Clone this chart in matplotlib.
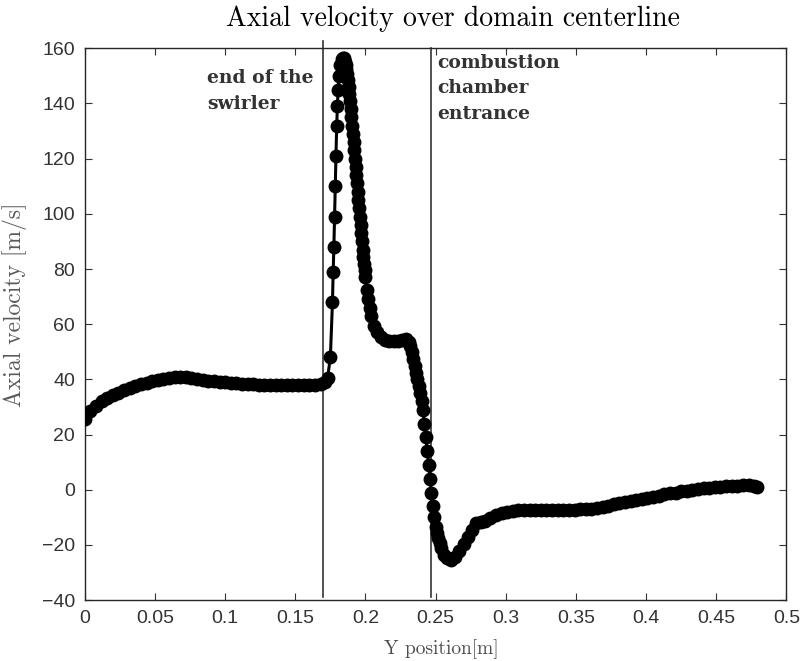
import matplotlib
matplotlib.use("Agg")
import matplotlib.pyplot as plt
import numpy as np

# centerline samples
Y_POS = [0.000, 0.004, 0.008, 0.012, 0.016, 0.020, 0.024, 0.028, 0.032, 0.036,
         0.040, 0.044, 0.048, 0.052, 0.056, 0.060, 0.064, 0.068, 0.072, 0.076,
         0.080, 0.084, 0.088, 0.092, 0.096, 0.100, 0.104, 0.108, 0.112, 0.116,
         0.120, 0.124, 0.128, 0.132, 0.136, 0.140, 0.144, 0.148, 0.152, 0.156,
         0.160, 0.164, 0.168,
         0.171, 0.173, 0.175, 0.1765, 0.177, 0.1775, 0.178, 0.1785, 0.179, 0.1795,
         0.180, 0.1805, 0.181, 0.182, 0.183, 0.184, 0.1845, 0.185, 0.1855, 0.186,
         0.1865, 0.187, 0.1875, 0.188, 0.1885, 0.189, 0.1895, 0.190, 0.1905, 0.191,
         0.1915, 0.192, 0.1925, 0.193, 0.1935, 0.194, 0.1945, 0.195, 0.1955, 0.196,
         0.1965, 0.197, 0.1975, 0.198, 0.1985, 0.199, 0.1995, 0.200, 0.201, 0.202,
         0.203, 0.204, 0.206, 0.208, 0.211, 0.214, 0.217, 0.220, 0.223,
         0.226, 0.229, 0.231, 0.232, 0.233, 0.234, 0.235, 0.236, 0.237, 0.238,
         0.239, 0.240, 0.241, 0.242, 0.243,
         0.244, 0.245, 0.246, 0.247, 0.248, 0.249, 0.250, 0.251, 0.252, 0.253,
         0.254, 0.256, 0.258, 0.261, 0.264, 0.267, 0.270, 0.273, 0.276, 0.279,
         0.282, 0.285, 0.289, 0.293, 0.297, 0.301, 0.305,
         0.309, 0.313, 0.317, 0.321, 0.325, 0.329, 0.333, 0.337, 0.341, 0.345,
         0.349, 0.353, 0.357, 0.361, 0.365, 0.369, 0.373, 0.377, 0.381, 0.385,
         0.389, 0.393, 0.397, 0.401, 0.405, 0.409, 0.413, 0.417, 0.421, 0.425,
         0.429, 0.433, 0.437, 0.441, 0.445, 0.449, 0.453, 0.457, 0.461, 0.465,
         0.469, 0.473, 0.477, 0.479]
AXIAL_VEL = [25.5, 28.5, 30.5, 32.0, 33.3, 34.3, 35.2, 36.0, 36.8, 37.5,
             38.2, 38.8, 39.4, 39.9, 40.3, 40.6, 40.8, 40.8, 40.7, 40.5,
             40.2, 39.9, 39.6, 39.3, 39.1, 38.9, 38.7, 38.6, 38.4, 38.3,
             38.2, 38.1, 38.0, 38.0, 38.0, 38.0, 38.0, 38.0, 38.0, 38.0,
             38.0, 38.0, 38.3,
             39.2, 40.5, 48.0, 68.0, 79.0, 88.0, 99.0, 110.0, 121.0, 132.0,
             139.0, 145.0, 150.0, 154.0, 156.0, 156.5, 156.3, 155.8, 155.0, 154.0,
             152.5, 150.5, 148.5, 146.0, 143.5, 141.0, 138.0, 135.0, 132.0, 129.0,
             126.0, 123.0, 120.0, 117.0, 114.0, 111.0, 108.0, 105.0, 102.0, 99.0,
             96.0, 93.0, 90.0, 87.0, 84.5, 82.0, 79.5, 77.0, 72.5, 69.0,
             66.0, 63.0, 59.5, 57.3, 55.5, 54.4, 53.9, 53.8, 54.0,
             54.3, 54.5, 53.5, 52.0, 50.0, 47.5, 45.0, 42.5, 40.0, 37.5,
             35.0, 32.0, 29.0, 24.0, 19.0,
             14.0, 9.0, 4.0, -1.0, -6.0, -10.0, -13.5, -15.5, -17.5, -19.3,
             -21.0, -23.5, -24.8, -25.3, -24.5, -22.0, -19.5, -17.0, -14.5, -12.0,
             -11.8, -11.3, -10.3, -9.2, -8.5, -8.0, -7.6,
             -7.4, -7.3, -7.2, -7.2, -7.2, -7.2, -7.2, -7.2, -7.2, -7.2,
             -7.2, -7.1, -7.0, -6.8, -6.5, -6.1, -5.7, -5.3, -4.9, -4.5,
             -4.1, -3.7, -3.3, -2.9, -2.5, -2.1, -1.7, -1.3, -1.0, -0.6,
             -0.3, 0.0, 0.3, 0.5, 0.8, 1.0, 1.1, 1.2, 1.3, 1.5,
             1.7, 1.7, 1.3, 1.0]

SWIRLER_END = 0.17
CHAMBER_IN = 0.247

XTICKS = [0, 0.05, 0.1, 0.15, 0.2, 0.25, 0.3, 0.35, 0.4, 0.45, 0.5]
XTICK_LABELS = ["0", "0.05", "0.1", "0.15", "0.2", "0.25", "0.3", "0.35", "0.4", "0.45", "0.5"]
YTICKS = [-40, -20, 0, 20, 40, 60, 80, 100, 120, 140, 160]

GRAY = "#262626"

fig = plt.figure(figsize=(8, 6.61), dpi=100)
ax = fig.add_axes([0.106, 0.092, 0.877, 0.835])

ax.plot(Y_POS, AXIAL_VEL, "-o", color="black", lw=2.2, ms=9, zorder=3)

# annotation lines
ax.plot([SWIRLER_END, SWIRLER_END], [-39, 162.5], color="#333333", lw=1.2, clip_on=False)
ax.plot([CHAMBER_IN, CHAMBER_IN], [-39, 160], color="#333333", lw=1.2, clip_on=False)

ann_font = dict(family="DejaVu Serif", weight="bold", size=13.5, color="#333333")
ax.text(0.087, 152.5, "end of the\nswirler", va="top", ha="left", linespacing=1.55, **ann_font)
ax.text(0.251, 158, "combustion\nchamber\nentrance", va="top", ha="left", linespacing=1.55, **ann_font)

ax.set_xlim(0, 0.5)
ax.set_ylim(-40, 160)
ax.set_xticks(XTICKS)
ax.set_xticklabels(XTICK_LABELS)
ax.set_yticks(YTICKS)
ax.tick_params(direction="in", top=True, right=True, length=5, width=0.8,
               colors="#333333", labelsize=14, pad=7)
for lab in ax.get_xticklabels() + ax.get_yticklabels():
    lab.set_family("Liberation Sans")
for sp in ax.spines.values():
    sp.set_color(GRAY)
    sp.set_linewidth(1.0)

ax.set_xlabel("Y position[m]", family="cmr10", size=14, color="#4d4d4d")
ax.set_ylabel("Axial velocity [m/s]", family="cmr10", size=17, color="#5a5a5a")
ax.xaxis.set_label_coords(0.508, -0.071)
ax.yaxis.set_label_coords(-0.082, 0.535)
fig.text(0.566, 0.972, "Axial velocity over domain centerline", family="cmr10", size=20,
         color="black", ha="center", va="center")

fig.savefig("out.png", dpi=100)
